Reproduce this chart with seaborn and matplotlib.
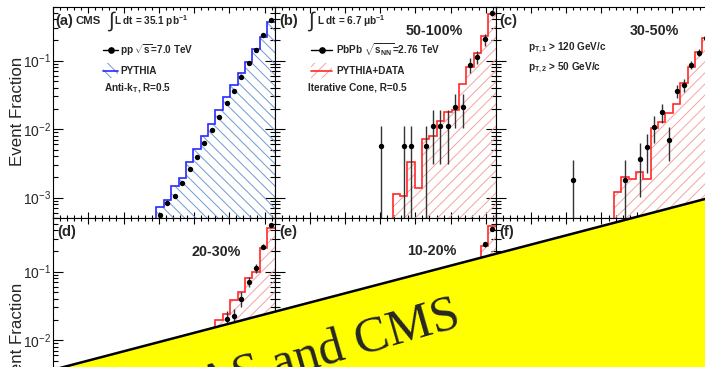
import numpy as np
import matplotlib
matplotlib.use("Agg")
import matplotlib.pyplot as plt
import seaborn as sns
from matplotlib.patches import Polygon, Rectangle
from matplotlib.lines import Line2D
from matplotlib.ticker import FixedLocator, LogLocator, MultipleLocator, NullFormatter

# ---------------- data (event fraction per delta-phi bin, 30 bins in [0, pi]) -------------
N_BINS = 30

# (a) pp
pp_first_bin = 14
pp_data = [5.5e-4, 8.4e-4, 1.05e-3, 1.65e-3, 2.58e-3, 3.98e-3, 6.3e-3, 9.8e-3,
           0.0150, 0.024, 0.0366, 0.058, 0.0917, 0.143, 0.239, 0.39]
pp_pythia = [7.2e-4, 9.4e-4, 1.5e-3, 1.95e-3, 3.3e-3, 5.2e-3, 7.85e-3, 0.012,
             0.0192, 0.0294, 0.0443, 0.0656, 0.0967, 0.147, 0.223, 0.369]

# (b) 50-100%
b_bins = [14, 17, 18, 20, 21, 22, 23, 24, 25, 26, 27, 28, 29]
b_vals = [5.6e-3, 5.6e-3, 5.6e-3, 5.6e-3, 0.011, 0.011, 0.011, 0.0214, 0.0214, 0.0866, 0.114, 0.206, 0.50]
b_errs = [5.6e-3, 5.6e-3, 5.6e-3, 5.6e-3, 7.9e-3, 7.9e-3, 7.9e-3, 0.011, 0.011, 0.021, 0.026, 0.04, 0.05]
b_hist_first = 16
b_hist = [1.12e-3, 1.05e-3, 3.33e-3, 1.4e-3, 7.2e-3, 7.85e-3, 0.013, 0.0176, 0.0192,
          0.0454, 0.0818, 0.128, 0.229, 0.477]

# (c) 30-50%
c_bins = [10, 17, 19, 20, 21, 22, 23, 24, 25, 26, 27, 28, 29]
c_vals = [1.8e-3, 1.8e-3, 3.64e-3, 5.4e-3, 0.0108, 0.0178, 7.0e-3, 0.0363, 0.0443, 0.0876, 0.131, 0.212, 0.43]
c_errs = [1.8e-3, 1.8e-3, 2.6e-3, 3.1e-3, 4.5e-3, 5.7e-3, 3.6e-3, 8e-3, 9e-3, 0.012, 0.015, 0.02, 0.028]
c_hist_first = 16
c_hist = [1.22e-3, 2.02e-3, 1.85e-3, 2.39e-3, 1.85e-3, 0.0104, 0.0127, 0.0172, 0.0232,
          0.047, 0.082, 0.135, 0.216, 0.43]

# (d) 20-30%
d_bins = [23, 24, 25, 26, 27, 28, 29]
d_vals = [0.0206, 0.0222, 0.0403, 0.071, 0.113, 0.232, 0.478]
d_errs = [0.006, 0.0065, 0.0095, 0.012, 0.017, 0.02, 0.025]
d_hist_first = 22
d_hist = [0.0195, 0.0243, 0.038, 0.0504, 0.0804, 0.098, 0.22, 0.43]

# (e) 10-20%
e_bins = [28, 29]
e_vals = [0.25, 0.42]
e_errs = [0.02, 0.03]
e_hist_first = 28
e_hist = [0.24, 0.47]

panel_letters = ["(a)", "(b)", "(c)", "(d)", "(e)", "(f)"]
centrality = ["", "50-100%", "30-50%", "20-30%", "10-20%", ""]
ytick_vals = [1e-3, 1e-2, 1e-1]
ytick_text = [r"$\mathregular{10^{-3}}$", r"$\mathregular{10^{-2}}$", r"$\mathregular{10^{-1}}$"]

# ---------------- style -------------
sns.set_style("ticks")
plt.rcParams["font.family"] = ["Liberation Sans", "DejaVu Sans"]
plt.rcParams["mathtext.fontset"] = "custom"
plt.rcParams["mathtext.rm"] = "Liberation Sans"
plt.rcParams["mathtext.bf"] = "Liberation Sans:bold"
plt.rcParams["mathtext.it"] = "Liberation Sans:italic"
plt.rcParams["mathtext.default"] = "bf"
plt.rcParams["hatch.linewidth"] = 0.7

W, H = 705, 367
fig = plt.figure(figsize=(W / 100, H / 100), dpi=100)
fig.patch.set_facecolor("white")


def rect(x0, y0, x1, y1):
    return [x0 / W, 1 - y1 / H, (x1 - x0) / W, (y1 - y0) / H]


def P(x, y):
    return (x / W, 1 - y / H)


cols = [(53.0, 274.5), (274.5, 495.8), (495.8, 717.1)]
rows = [(7.3, 218.3), (218.3, 429.3)]

edges = np.linspace(0, np.pi, N_BINS + 1)
centers = 0.5 * (edges[:-1] + edges[1:])

BLUE_LINE = "#2a2aff"
BLUE_HATCH = "#6f9bd1"
RED_LINE = "#ff2a2a"
RED_HATCH = "#f4a3a3"
FLOOR = 1e-7

axes = []
for r in range(2):
    for c in range(3):
        ax = fig.add_axes(rect(cols[c][0], rows[r][0], cols[c][1], rows[r][1]))
        axes.append(ax)


def draw_hist(ax, first, vals, lc, hc, hatch):
    e = edges[first:first + len(vals) + 1]
    ax.stairs(vals, e, baseline=FLOOR, fill=True, facecolor="none",
              edgecolor=hc, hatch=hatch, linewidth=0, zorder=2)
    e2 = edges[first - 1:first + len(vals) + 1]
    ax.stairs([FLOOR] + list(vals), e2, baseline=None, fill=False,
              edgecolor=lc, linewidth=1.2, zorder=3)


def draw_points(ax, bins, vals, errs=None):
    x = centers[np.array(bins)]
    v = np.array(vals)
    if errs is not None:
        e = np.array(errs)
        lo = np.where(v - e <= 0, v - FLOOR, e)
        ax.errorbar(x, v, yerr=[lo, e], fmt="none", ecolor="#333333", elinewidth=1.0,
                    capsize=0, zorder=4)
    sns.scatterplot(x=x, y=v, ax=ax, color="black", s=15, linewidth=0, zorder=5,
                    legend=False)


for ax in axes:
    ax.set_yscale("log")

draw_hist(axes[0], pp_first_bin, pp_pythia, BLUE_LINE, BLUE_HATCH, "\\\\\\")
draw_points(axes[0], list(range(pp_first_bin, pp_first_bin + len(pp_data))), pp_data)

draw_hist(axes[1], b_hist_first, b_hist, RED_LINE, RED_HATCH, "///")
draw_points(axes[1], b_bins, b_vals, b_errs)

draw_hist(axes[2], c_hist_first, c_hist, RED_LINE, RED_HATCH, "///")
draw_points(axes[2], c_bins, c_vals, c_errs)

draw_hist(axes[3], d_hist_first, d_hist, RED_LINE, RED_HATCH, "///")
draw_points(axes[3], d_bins, d_vals, d_errs)

draw_hist(axes[4], e_hist_first, e_hist, RED_LINE, RED_HATCH, "///")
draw_points(axes[4], e_bins, e_vals, e_errs)

for i, ax in enumerate(axes):
    ax.set_xlim(0, np.pi)
    ax.set_ylim(5e-4, 0.6)
    ax.set_xlabel("")
    ax.set_ylabel("")
    ax.xaxis.set_major_locator(MultipleLocator(0.5))
    ax.xaxis.set_minor_locator(MultipleLocator(0.1))
    ax.yaxis.set_major_locator(FixedLocator(ytick_vals))
    ax.yaxis.set_minor_locator(LogLocator(base=10, subs=np.arange(2, 10), numticks=30))
    ax.yaxis.set_minor_formatter(NullFormatter())
    ax.tick_params(which="both", direction="in", top=True, right=True,
                   labelbottom=False, labeltop=False, labelright=False,
                   width=0.8, color="black")
    ax.tick_params(axis="y", which="major", length=7.2)
    ax.tick_params(axis="y", which="minor", length=3.6)
    ax.tick_params(axis="x", which="major", length=4.3)
    ax.tick_params(axis="x", which="minor", length=2.2)
    for s in ax.spines.values():
        s.set_linewidth(0.8)
        s.set_color("black")
    if i % 3 == 0:
        ax.set_yticklabels(ytick_text)
        ax.tick_params(axis="y", which="major", labelsize=10, pad=1.5, labelleft=True)
    else:
        ax.tick_params(axis="y", labelleft=False)

# y axis titles
for yc in (111, 337):
    fig.text(*P(17.5, yc), "Event Fraction", rotation=90, ha="center", va="center",
             fontsize=12.2)

# ---- panel annotations ----
BOLD = dict(fontweight="bold", ha="left", va="center")
fig.text(*P(55, 20.5), "(a)", fontsize=10.6, **BOLD)
fig.text(*P(76, 20.5), "CMS", fontsize=8.2, **BOLD)
fig.text(*P(108.5, 21), "\u222b", fontsize=15, ha="left", va="center")
fig.text(*P(114, 21.5), r"L dt = 35.1 pb$^{-1}$", fontsize=7.2, **BOLD)
fig.add_artist(Line2D([P(103, 50)[0], P(118, 50)[0]], [P(103, 50)[1]] * 2,
                      transform=fig.transFigure, color="black", lw=1.0))
fig.add_artist(Line2D([P(110.5, 50)[0]], [P(110.5, 50)[1]], transform=fig.transFigure,
                      color="black", marker="o", markersize=3.8, lw=0))
fig.text(*P(120, 50), r"pp $\sqrt{s}$=7.0 TeV", fontsize=7.2, **BOLD)
x0, y0 = P(103, 78)
x1, y1 = P(118, 63)
fig.add_artist(Rectangle((x0, y0), x1 - x0, y1 - y0, transform=fig.transFigure,
                         facecolor="none", edgecolor=BLUE_HATCH, hatch="\\\\\\", lw=0))
fig.add_artist(Line2D([P(103, 71)[0], P(118, 71)[0]], [P(103, 71)[1]] * 2,
                      transform=fig.transFigure, color=BLUE_LINE, lw=1.2))
fig.text(*P(120, 71), "PYTHIA", fontsize=7.2, **BOLD)
fig.text(*P(104, 88), r"Anti-k$_{T}$, R=0.5", fontsize=7.2, **BOLD)

fig.text(*P(279, 20.5), "(b)", fontsize=10.6, **BOLD)
fig.text(*P(308.5, 21), "\u222b", fontsize=15, ha="left", va="center")
fig.text(*P(317, 21.5), "L dt = 6.7 \u03bcb$^{-1}$", fontsize=7.2, **BOLD)
fig.text(*P(406, 31), centrality[1], fontsize=10.3, **BOLD)
fig.add_artist(Line2D([P(311, 50)[0], P(332, 50)[0]], [P(311, 50)[1]] * 2,
                      transform=fig.transFigure, color="black", lw=1.0))
fig.add_artist(Line2D([P(321.5, 50)[0]], [P(321.5, 50)[1]], transform=fig.transFigure,
                      color="black", marker="o", markersize=3.8, lw=0))
fig.text(*P(336, 50), r"PbPb $\sqrt{s_{NN}}$=2.76 TeV", fontsize=7.2, **BOLD)
x0, y0 = P(311, 78)
x1, y1 = P(332, 63)
fig.add_artist(Rectangle((x0, y0), x1 - x0, y1 - y0, transform=fig.transFigure,
                         facecolor="none", edgecolor=RED_HATCH, hatch="///", lw=0))
fig.add_artist(Line2D([P(311, 71)[0], P(332, 71)[0]], [P(311, 71)[1]] * 2,
                      transform=fig.transFigure, color=RED_LINE, lw=1.2))
fig.text(*P(336, 71), "PYTHIA+DATA", fontsize=7.2, **BOLD)
fig.text(*P(308, 88), "Iterative Cone, R=0.5", fontsize=7.2, **BOLD)

fig.text(*P(499, 20.5), "(c)", fontsize=10.6, **BOLD)
fig.text(*P(630, 31), centrality[2], fontsize=10.3, **BOLD)
fig.text(*P(528, 47.5), r"p$_{T,1}$ > 120 GeV/c", fontsize=7.2, **BOLD)
fig.text(*P(528, 68), r"p$_{T,2}$ > 50 GeV/c", fontsize=7.2, **BOLD)

fig.text(*P(57, 232), "(d)", fontsize=10.6, **BOLD)
fig.text(*P(191, 252), centrality[3], fontsize=10.3, **BOLD)
fig.text(*P(279, 232), "(e)", fontsize=10.6, **BOLD)
fig.text(*P(407, 251), centrality[4], fontsize=10.3, **BOLD)
fig.text(*P(499, 232), "(f)", fontsize=10.6, **BOLD)

# ---- yellow banner ----
slope = 0.262


def yline(x):
    return 199 + (705 - x) * slope


banner = [P(-10, yline(-10)), P(715, yline(715)), P(715, 420), P(-10, 420)]
fig.add_artist(Polygon(banner, closed=True, transform=fig.transFigure,
                       facecolor="#ffff00", edgecolor="none", zorder=10))
fig.add_artist(Line2D([P(-10, 0)[0], P(715, 0)[0]],
                      [P(0, yline(-10))[1], P(0, yline(715))[1]],
                      transform=fig.transFigure, color="black", lw=1.8, zorder=11))
fig.text(*P(463, 326), "ATLAS and CMS", rotation=16, rotation_mode="anchor",
         ha="right", va="baseline", fontsize=36.5, family="Liberation Serif",
         fontweight="normal", zorder=12)

fig.savefig("out.png", dpi=100)
